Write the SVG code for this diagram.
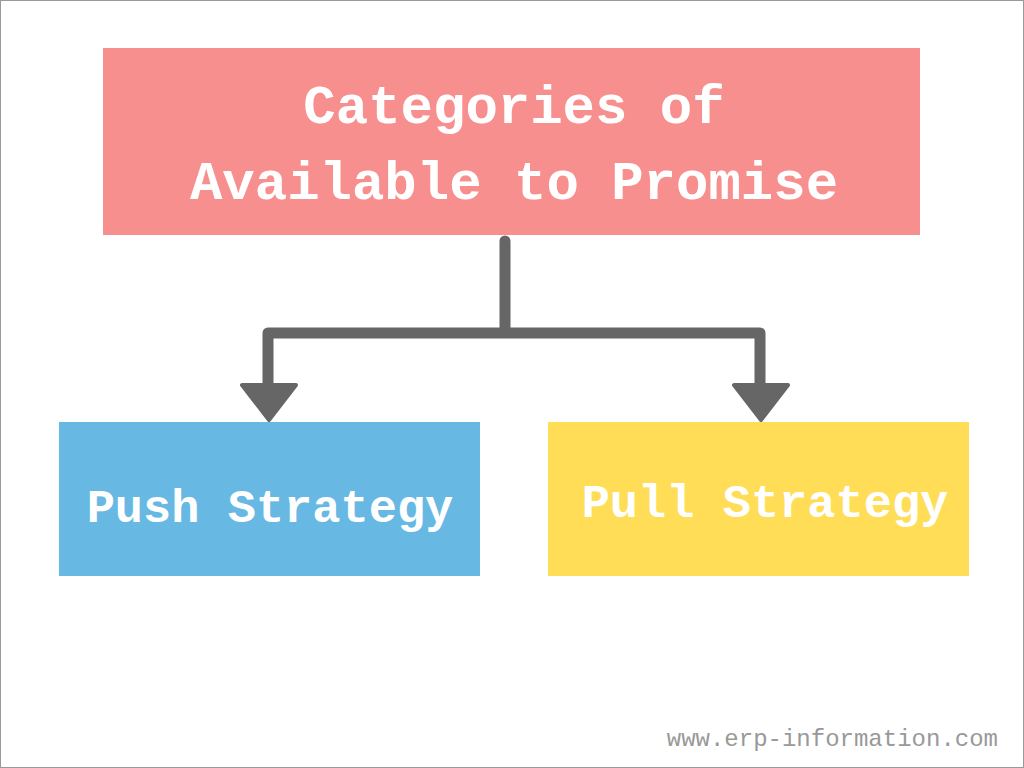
<svg xmlns="http://www.w3.org/2000/svg" width="1024" height="768" viewBox="0 0 1024 768">
<style>
.t{font-family:"Liberation Mono","DejaVu Sans Mono",monospace;font-weight:bold;fill:#fff;text-anchor:middle}
.c{fill:none;stroke:#666;stroke-width:11;stroke-linecap:round;stroke-linejoin:round}
</style>
<rect x="0.5" y="0.5" width="1023" height="767" fill="#fff" stroke="#999"/>
<g id="top"><rect x="103" y="48" width="817" height="187" fill="#F78F8F"/>
<text class="t" x="514" y="123" font-size="54">Categories of</text>
<text class="t" x="514" y="199" font-size="54">Available to Promise</text></g>
<g id="push"><rect x="59" y="422" width="421" height="154" fill="#67B8E3"/>
<text class="t" x="270" y="522" font-size="47">Push Strategy</text></g>
<g id="pull"><rect x="548" y="422" width="421" height="154" fill="#FFDD57"/>
<text class="t" x="765" y="517" font-size="47">Pull Strategy</text></g>
<g id="connectors">
<path class="c" d="M505 241V333M268 388V333H760V388"/>
<polygon points="242,385 296,385 269,420" fill="#666" stroke="#666" stroke-width="4" stroke-linejoin="round"/>
<polygon points="734,385 788,385 761,420" fill="#666" stroke="#666" stroke-width="4" stroke-linejoin="round"/>
</g>
<text x="998" y="746" font-family="Liberation Mono,monospace" font-size="24" fill="#999" text-anchor="end">www.erp-information.com</text>
</svg>
